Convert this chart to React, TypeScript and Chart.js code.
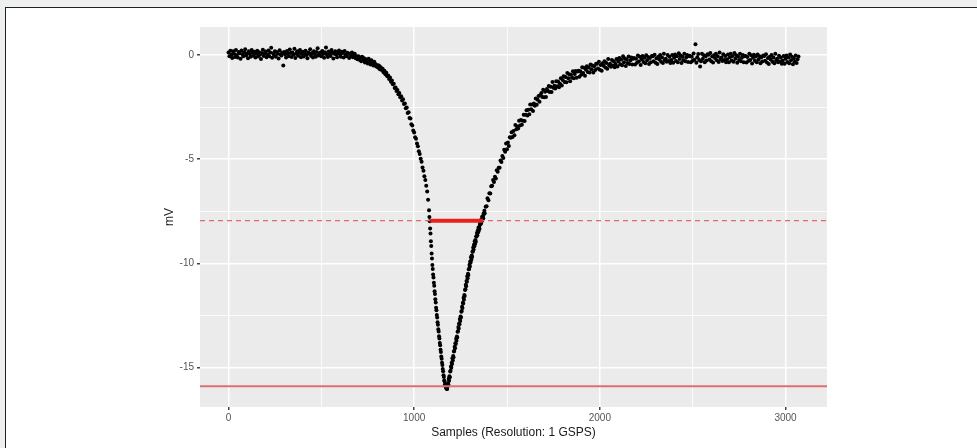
import React, { useEffect, useRef } from 'react';
import { Chart, registerables } from 'chart.js';

Chart.register(...registerables);

// Baseline + falling edge: samples 0..1075, every 5 samples (mV)
const baselineStart = 0;
const baselineStep = 5;
const baselineMv = [
  0.12, -0.05, 0.21, 0.02, -0.14, 0.18, 0.07, -0.09, 0.25, 0.01, -0.11, 0.15, 0.09, -0.18, 0.22, 0.04, -0.06, 0.13, 0.28, -0.02,
  0.08, -0.15, 0.19, 0.05, -0.08, 0.24, 0.11, -0.03, 0.16, -0.12, 0.07, 0.21, -0.07, 0.14, 0.02, -0.19, 0.1, 0.26, -0.04, 0.06,
  0.17, -0.1, 0.03, 0.22, -0.06, 0.12, 0.35, -0.13, 0.09, 0.01, 0.19, -0.08, 0.14, 0.06, -0.16, 0.23, 0.04, -0.02, 0.11, -0.5,
  0.15, 0.03, -0.12, 0.2, 0.08, -0.05, 0.27, 0.1, -0.09, 0.13, 0.02, 0.3, -0.14, 0.07, 0.18, -0.03, 0.11, 0.24, -0.1, 0.05,
  0.16, -0.07, 0.09, 0.21, 0.0, -0.15, 0.13, 0.06, 0.28, -0.04, 0.1, -0.11, 0.19, 0.04, -0.08, 0.15, 0.33, -0.02, 0.08, 0.12,
  -0.06, 0.2, 0.05, -0.13, 0.14, 0.36, 0.02, -0.09, 0.17, 0.08, -0.04, 0.25, 0.11, -0.16, 0.06, 0.19, 0.03, -0.1, 0.13, 0.22,
  0.04, -0.08, 0.16, 0.1, -0.12, 0.2, 0.02, -0.06, 0.11, 0.05, -0.14, 0.08, -0.03, 0.12, -0.1, -0.02, 0.06, -0.15, -0.05, -0.2,
  -0.05, -0.22, -0.12, -0.3, -0.08, -0.25, -0.15, -0.35, -0.2, -0.28, -0.4, -0.18, -0.33, -0.45, -0.25, -0.38, -0.5, -0.32, -0.42, -0.55,
  -0.48, -0.6, -0.5, -0.68, -0.58, -0.72, -0.65, -0.82, -0.75, -0.92, -0.85, -1.02, -0.98, -1.15, -1.08, -1.28, -1.22, -1.4, -1.38, -1.58,
  -1.55, -1.72, -1.68, -1.88, -1.82, -2.02, -1.98, -2.18, -2.12, -2.35, -2.32, -2.55, -2.52, -2.78, -2.75, -3.02, -3.05, -3.32, -3.38, -3.62,
  -3.72, -3.95, -4.02, -4.25, -4.38, -4.62, -4.75, -4.98, -5.12, -5.4, -5.55, -5.82, -6.0, -6.28, -6.55, -6.95,
];

// Pulse: samples 1080..1380, every 2 samples (mV)
const peakStart = 1080;
const peakStep = 2;
const peakMv = [
  -7.45, -7.78, -7.98, -8.33, -8.57, -8.94, -9.17, -9.53, -9.77, -10.08,
  -10.27, -10.54, -10.68, -10.93, -11.08, -11.34, -11.47, -11.73, -11.88, -12.13,
  -12.25, -12.48, -12.6, -12.83, -12.95, -13.17, -13.28, -13.5, -13.61, -13.83,
  -13.94, -14.15, -14.26, -14.47, -14.58, -14.78, -14.88, -15.08, -15.18, -15.38,
  -15.46, -15.63, -15.68, -15.81, -15.85, -15.94, -15.95, -16.02, -16.01, -16.03,
  -15.92,
  -15.77, -15.81, -15.54, -15.64, -15.42, -15.47, -15.19, -15.16, -14.95, -15.02,
  -14.78, -14.83, -14.56, -14.67, -14.45, -14.51, -14.24, -14.21, -14.01, -14.08,
  -13.84, -13.88, -13.62, -13.72, -13.51, -13.56, -13.29, -13.26, -13.06, -13.13,
  -12.89, -12.93, -12.67, -12.77, -12.55, -12.6, -12.32, -12.29, -12.08, -12.15,
  -11.89, -11.93, -11.65, -11.75, -11.52, -11.57, -11.28, -11.25, -11.03, -11.1,
  -10.85, -10.89, -10.62, -10.72, -10.5, -10.56, -10.29, -10.27, -10.07, -10.15,
  -9.91, -9.96, -9.71, -9.83, -9.63, -9.7, -9.44, -9.43, -9.24, -9.33,
  -9.11, -9.18, -8.94, -9.07, -8.88, -8.96, -8.71, -8.71, -8.54, -8.65,
  -8.44, -8.52, -8.29, -8.43, -8.25, -8.34, -8.11, -8.13, -7.97, -8.09,
  -7.89, -7.98, -7.76, -7.91, -7.74, -7.84, -7.61, -7.63, -7.47, -7.59,
];

// Recovery tail: samples 1385..3070, every 5 samples (mV)
const tailStart = 1385;
const tailStep = 5;
const tailMv = [
  -7.28, -7.26, -6.88, -6.97, -6.64, -6.65, -6.3, -6.27, -6.0, -6.09, -5.84, -5.93, -5.53, -5.6, -5.41, -5.41, -5.06, -5.13, -4.85, -4.94,
  -4.54, -4.64, -4.25, -4.52, -4.2, -4.37, -3.94, -3.97, -3.7, -3.93, -3.64, -3.85, -3.36, -3.56, -3.43, -3.53, -3.15, -3.38, -3.12, -3.34,
  -3.15, -2.86, -3.17, -2.87, -2.65, -2.9, -2.62, -2.84, -2.37, -2.6, -2.37, -2.68, -2.32, -2.43, -2.08, -2.38, -2.14, -1.96, -2.24, -1.91,
  -1.82, -2.01, -1.66, -2.02, -1.76, -2.01, -1.63, -1.72, -1.48, -1.77, -1.52, -1.77, -1.29, -1.57, -1.47, -1.6, -1.25, -1.5, -1.27, -1.54,
  -1.37, -1.11, -1.46, -1.19, -1.01, -1.29, -1.05, -1.3, -0.86, -1.11, -0.92, -1.26, -0.94, -1.09, -0.77, -1.11, -0.91, -0.76, -1.09, -0.79,
  -0.75, -1.04, -0.77, -0.94, -0.58, -0.86, -0.61, -0.99, -0.7, -0.54, -0.81, -0.6, -0.84, -0.45, -0.68, -0.5, -0.83, -0.53, -0.72, -0.41,
  -0.42, -0.64, -0.32, -0.7, -0.47, -0.75, -0.39, -0.51, -0.29, -0.6, -0.38, -0.65, -0.19, -0.49, -0.41, -0.56, -0.23, -0.5, -0.29, -0.58,
  -0.43, -0.19, -0.55, -0.3, -0.14, -0.44, -0.21, -0.49, -0.06, -0.34, -0.16, -0.52, -0.21, -0.38, -0.07, -0.43, -0.25, -0.11, -0.45, -0.17,
  -0.14, -0.45, -0.18, -0.37, -0.02, -0.31, -0.08, -0.47, -0.2, -0.04, -0.33, -0.13, -0.39, -0.01, -0.25, -0.09, -0.43, -0.14, -0.34, -0.04,
  -0.06, -0.29, 0.02, -0.37, -0.15, -0.43, -0.08, -0.21, 0.0, -0.32, -0.11, -0.38, 0.07, -0.24, -0.17, -0.32, 0.0, -0.28, -0.08, -0.38,
  -0.23, 0.0, -0.37, -0.13, 0.03, -0.28, -0.06, -0.34, 0.09, -0.19, -0.02, -0.38, -0.08, -0.25, 0.06, -0.3, -0.12, 0.01, -0.33, -0.05,
  -0.03, -0.34, -0.08, -0.27, 0.08, -0.22, 0.52, -0.37, -0.1, 0.05, -0.24, -0.55, -0.3, 0.07, -0.17, -0.01, -0.34, -0.05, -0.26, 0.04,
  0.02, -0.21, 0.1, -0.29, -0.07, -0.36, -0.01, -0.14, 0.07, -0.25, -0.05, -0.33, 0.12, -0.19, -0.12, -0.28, 0.04, -0.24, -0.04, -0.34,
  -0.2, 0.03, -0.34, -0.1, 0.06, -0.26, -0.04, -0.32, 0.1, -0.18, -0.01, -0.37, -0.07, -0.24, 0.06, -0.3, -0.13, 0.01, -0.34, -0.06,
  -0.04, -0.35, -0.09, -0.28, 0.07, -0.24, -0.01, -0.4, -0.13, 0.02, -0.27, -0.07, -0.34, 0.03, -0.21, -0.05, -0.39, -0.1, -0.31, -0.02,
  -0.04, -0.27, 0.04, -0.36, -0.14, -0.43, -0.08, -0.21, 0.0, -0.32, -0.11, -0.39, 0.06, -0.25, -0.18, -0.34, -0.03, -0.31, -0.11, -0.41,
  -0.27, -0.04, -0.41, -0.17, -0.02, -0.33, -0.11, -0.39, 0.03, -0.25, -0.08, -0.44, -0.15, -0.32, -0.02, -0.38, -0.2, -0.07,
];

// Reference levels
const halfLevel = -7.95;
const peakLevel = -15.9;
const fwhmStart = 1087;
const fwhmEnd = 1370;

// Axes
const xMajorTicks = [0, 1000, 2000, 3000];
const xMinorTicks = [500, 1500, 2500];
const yMajorTicks = [0, -5, -10, -15];
const yMinorTicks = [-2.5, -7.5, -12.5];
const xMin = -153.5;
const xMax = 3223.5;
const yMin = -16.9;
const yMax = 1.35;
const xTitle = 'Samples (Resolution: 1 GSPS)';
const yTitle = 'mV';

const toPoints = (start: number, step: number, arr: number[]) =>
  arr.map((y, i) => ({ x: start + i * step, y }));

const panelBg = {
  id: 'panelBg',
  beforeDraw(chart: any) {
    const { ctx, chartArea } = chart;
    ctx.save();
    ctx.fillStyle = '#ebebeb';
    ctx.fillRect(chartArea.left, chartArea.top, chartArea.right - chartArea.left, chartArea.bottom - chartArea.top);
    ctx.restore();
  },
};

export default function App() {
  const ref = useRef<HTMLCanvasElement | null>(null);

  useEffect(() => {
    document.body.style.margin = '0';
    const canvas = ref.current;
    if (!canvas) return;
    const points = [
      ...toPoints(baselineStart, baselineStep, baselineMv),
      ...toPoints(peakStart, peakStep, peakMv),
      ...toPoints(tailStart, tailStep, tailMv),
    ];
    const font = "'Liberation Sans', Arial, sans-serif";
    const isMajorX = (v: number) => xMajorTicks.includes(v);
    const isMajorY = (v: number) => yMajorTicks.includes(v);

    const chart = new Chart(canvas, {
      type: 'scatter',
      data: {
        datasets: [
          {
            data: [{ x: fwhmStart, y: halfLevel }, { x: fwhmEnd, y: halfLevel }],
            showLine: true,
            borderColor: '#e8211f',
            borderWidth: 4,
            pointRadius: 0,
          },
          {
            data: [{ x: xMin, y: halfLevel }, { x: xMax, y: halfLevel }],
            showLine: true,
            borderColor: '#df6a6a',
            borderWidth: 1.4,
            borderDash: [5, 4],
            pointRadius: 0,
          },
          {
            data: [{ x: xMin, y: peakLevel }, { x: xMax, y: peakLevel }],
            showLine: true,
            borderColor: '#dd6f6f',
            borderWidth: 2,
            pointRadius: 0,
          },
          {
            data: points,
            showLine: false,
            pointRadius: 2,
            pointBackgroundColor: '#000',
            pointBorderWidth: 0,
          },
        ],
      },
      options: {
        animation: false,
        responsive: false,
        devicePixelRatio: 1,
        layout: { padding: { left: 158, right: 150, top: 27, bottom: 4 } },
        plugins: { legend: { display: false }, tooltip: { enabled: false } },
        scales: {
          x: {
            type: 'linear',
            min: xMin,
            max: xMax,
            afterBuildTicks: (s: any) => {
              s.ticks = [...xMajorTicks, ...xMinorTicks].sort((a, b) => a - b).map((v) => ({ value: v }));
            },
            afterFit: (s: any) => {
              s.height = 37;
            },
            border: { display: false },
            grid: {
              color: '#ffffff',
              lineWidth: (c: any) => (isMajorX(c.tick?.value) ? 1.5 : 0.8),
              tickColor: (c: any) => (isMajorX(c.tick?.value) ? '#444' : 'rgba(0,0,0,0)'),
              tickLength: 3,
            },
            ticks: {
              autoSkip: false,
              maxRotation: 0,
              padding: 2,
              color: '#555',
              font: { family: font, size: 10 },
              callback: (v: any) => (isMajorX(v) ? String(v) : ''),
            },
            title: {
              display: true,
              text: xTitle,
              color: '#1a1a1a',
              font: { family: font, size: 12 },
              padding: { top: 0, bottom: 4 },
            },
          },
          y: {
            type: 'linear',
            min: yMin,
            max: yMax,
            afterBuildTicks: (s: any) => {
              s.ticks = [...yMajorTicks, ...yMinorTicks].sort((a, b) => a - b).map((v) => ({ value: v }));
            },
            afterFit: (s: any) => {
              s.width = 42;
            },
            border: { display: false },
            grid: {
              color: '#ffffff',
              lineWidth: (c: any) => (isMajorY(c.tick?.value) ? 1.5 : 0.8),
              tickColor: (c: any) => (isMajorY(c.tick?.value) ? '#444' : 'rgba(0,0,0,0)'),
              tickLength: 3,
            },
            ticks: {
              autoSkip: false,
              padding: 3,
              color: '#555',
              font: { family: font, size: 10 },
              callback: (v: any) => (isMajorY(v) ? String(v) : ''),
            },
            title: {
              display: true,
              text: yTitle,
              color: '#1a1a1a',
              font: { family: font, size: 12 },
              padding: { top: 4, bottom: 0 },
            },
          },
        },
      },
      plugins: [panelBg],
    } as any);

    return () => chart.destroy();
  }, []);

  return (
    <div style={{ position: 'fixed', left: 0, top: 0, width: 977, height: 448, background: '#eef0ef', overflow: 'hidden' }}>
      <div
        style={{
          position: 'absolute',
          left: 5,
          top: 7,
          width: 980,
          height: 450,
          background: '#ffffff',
          borderLeft: '1px solid #222',
          borderTop: '1px solid #222',
        }}
      />
      <canvas ref={ref} width={977} height={448} style={{ position: 'absolute', left: 0, top: 0, width: 977, height: 448 }} />
    </div>
  );
}
